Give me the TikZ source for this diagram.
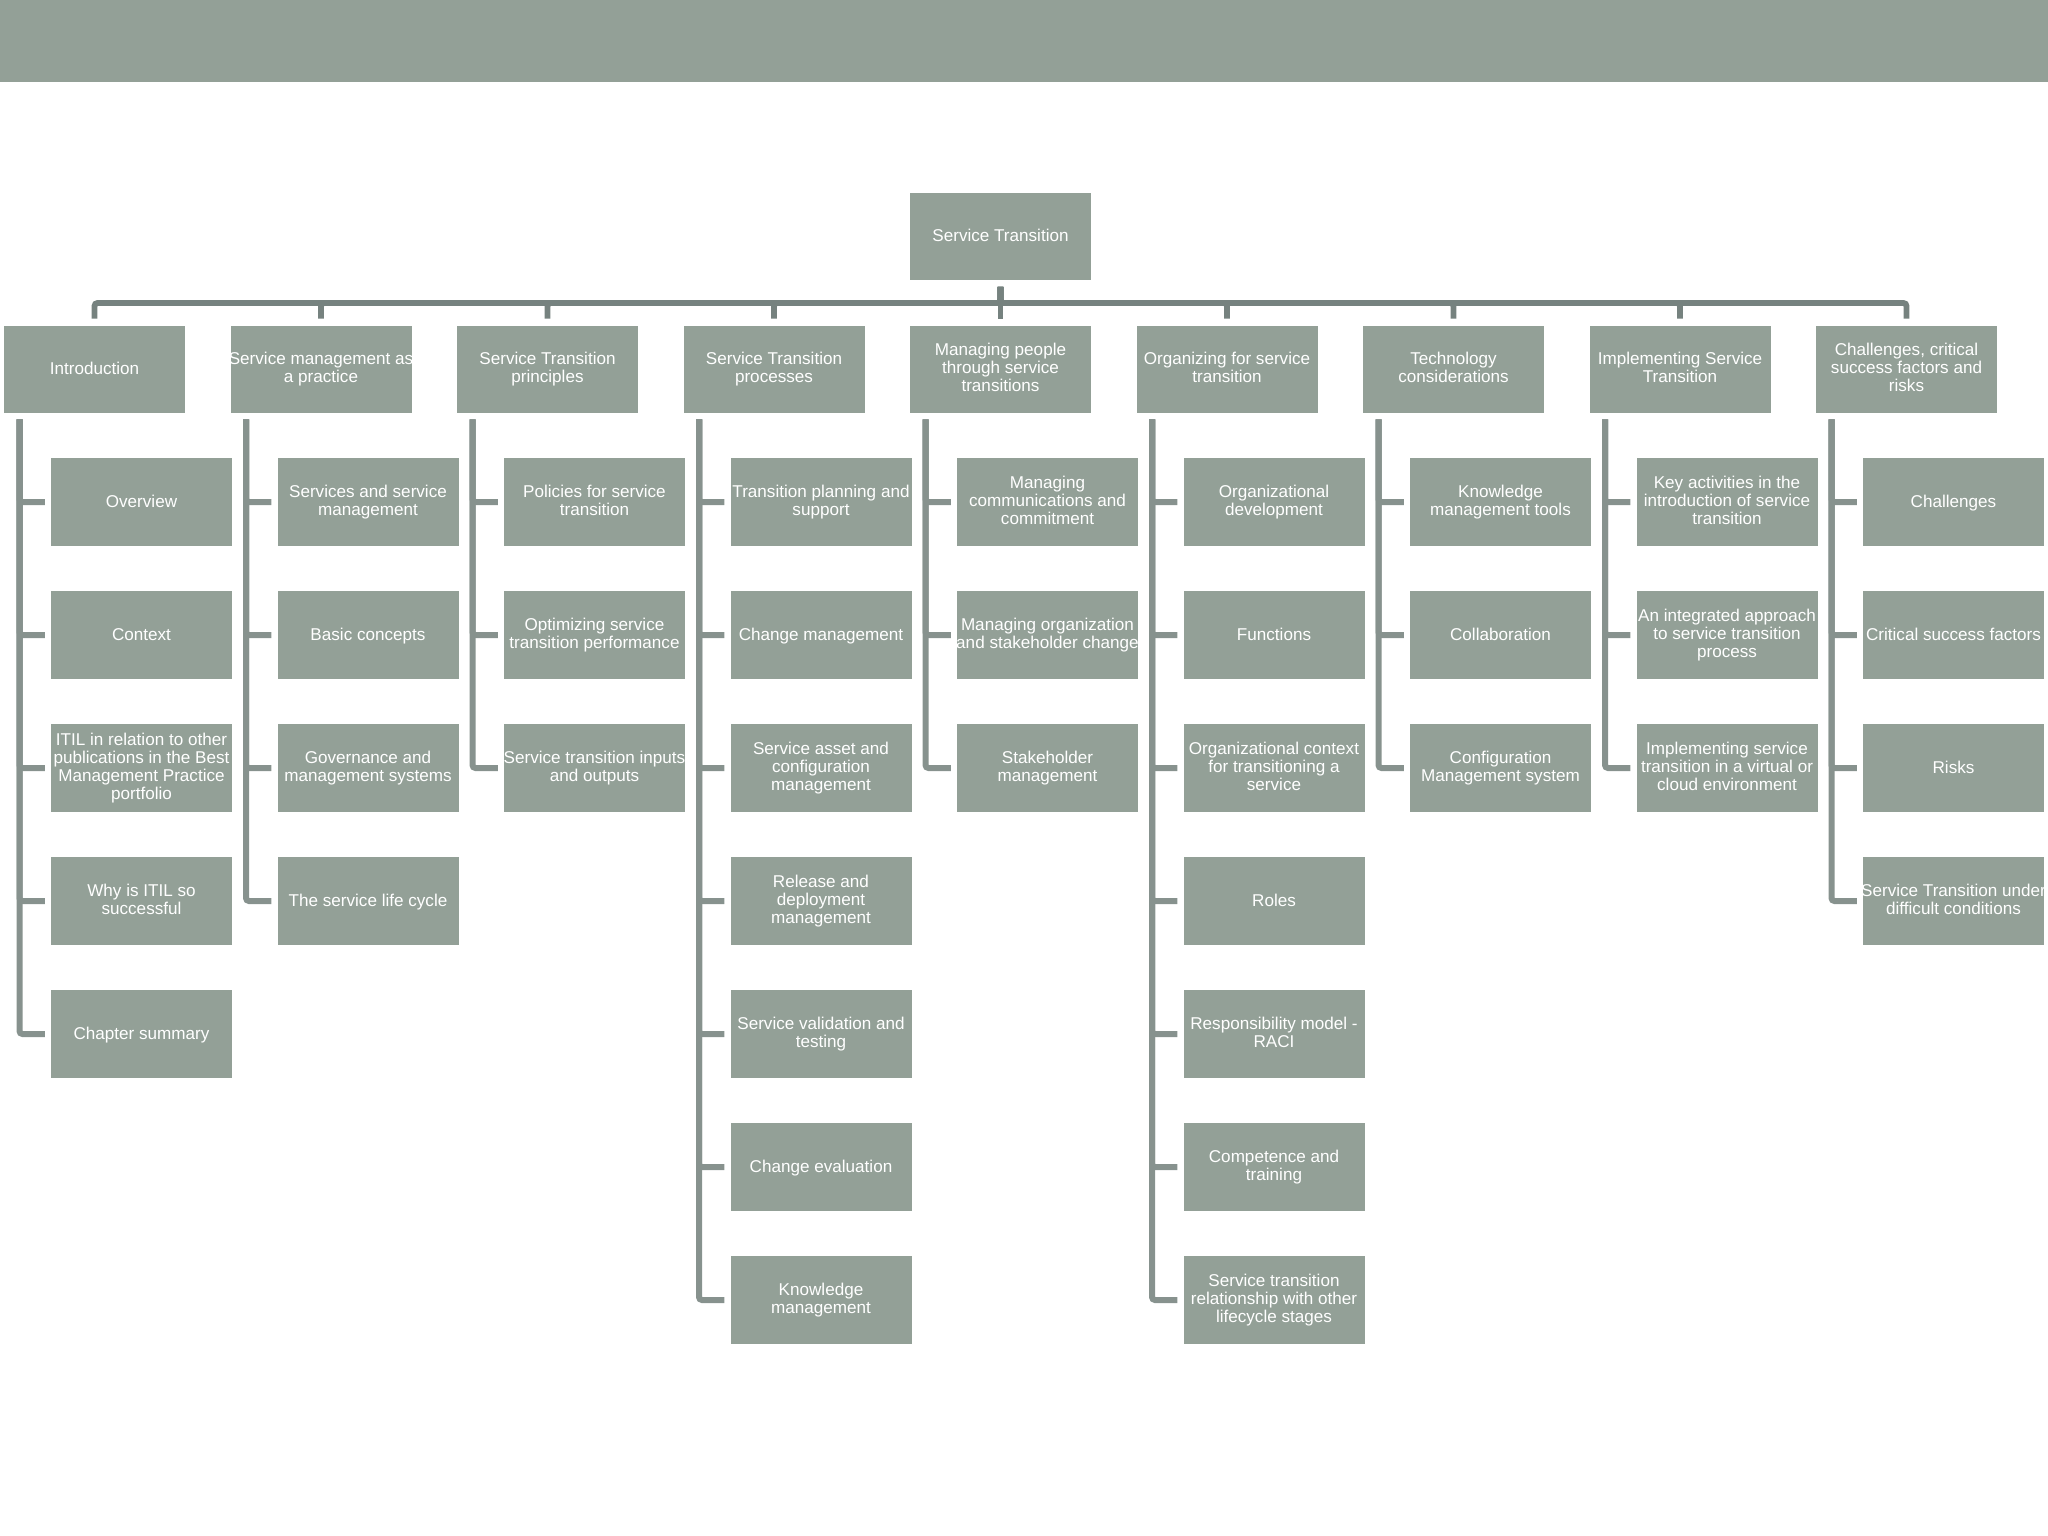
\documentclass[tikz,border=0pt]{standalone}
\usepackage{fontspec}
\setmainfont{Liberation Sans}
\definecolor{boxfill}{HTML}{93A097}
\definecolor{busline}{HTML}{76827F}
\definecolor{trunkline}{HTML}{87928E}
\tikzset{
  box/.style={fill=boxfill,minimum width=181pt,minimum height=87.3pt,inner sep=0pt,align=center,text=white,font=\fontsize{17.1}{18}\selectfont,
    execute at begin node=\raisebox{2.6pt}{\vphantom{Ag}},execute at end node=\vphantom{Ag}},
  busconn/.style={draw=busline,line width=5.8pt,rounded corners=3pt,shorten <=6.7pt,shorten >=6.7pt},
  trunkconn/.style={draw=trunkline,line width=6pt,rounded corners=3pt,shorten <=6.3pt,shorten >=6pt}
}
\newcommand{\treelink}[2]{\draw[trunkconn] ([xshift=15.7pt]#1.south west) |- (#2.west);}
\newcommand{\wideline}[1]{\makebox[170pt][c]{#1}}
\begin{document}
\begin{tikzpicture}[x=1pt,y=-1pt]
\useasboundingbox (0,0) rectangle (2048,1536);
\fill[boxfill] (0,0) rectangle (2048,82);
\coordinate (bus) at (1000.5,303);
\node[box] (root) at (1000.5,236.3) {Service Transition};
% top level
\node[box] (a) at (94.5,369.2) {Introduction};
\node[box] (b) at (321,369.2) {\wideline{Service management as}\\a practice};
\node[box] (c) at (547.5,369.2) {Service Transition\\principles};
\node[box] (d) at (774,369.2) {Service Transition\\processes};
\node[box] (e) at (1000.5,369.2) {Managing people\\through service\\transitions};
\node[box] (f) at (1227,369.2) {\wideline{Organizing for service}\\transition};
\node[box] (g) at (1453.5,369.2) {Technology\\considerations};
\node[box] (h) at (1680,369.2) {\wideline{Implementing Service}\\Transition};
\node[box] (i) at (1906.5,369.2) {Challenges, critical\\success factors and\\risks};
% Introduction
\node[box] (a1) at (141.5,502) {Overview};
\node[box] (a2) at (141.5,635) {Context};
\node[box] (a3) at (141.5,768) {\wideline{ITIL in relation to other}\\\wideline{publications in the Best}\\Management Practice\\portfolio};
\node[box] (a4) at (141.5,901) {Why is ITIL so\\successful};
\node[box] (a5) at (141.5,1034) {Chapter summary};
% Service management
\node[box] (b1) at (368,502) {Services and service\\management};
\node[box] (b2) at (368,635) {Basic concepts};
\node[box] (b3) at (368,768) {Governance and\\management systems};
\node[box] (b4) at (368,901) {The service life cycle};
% Principles
\node[box] (c1) at (594.5,502) {Policies for service\\transition};
\node[box] (c2) at (594.5,635) {Optimizing service\\\wideline{transition performance}};
\node[box] (c3) at (594.5,768) {\wideline{Service transition inputs}\\and outputs};
% Processes
\node[box] (d1) at (821,502) {\wideline{Transition planning and}\\support};
\node[box] (d2) at (821,635) {Change management};
\node[box] (d3) at (821,768) {Service asset and\\configuration\\management};
\node[box] (d4) at (821,901) {Release and\\deployment\\management};
\node[box] (d5) at (821,1034) {\wideline{Service validation and}\\testing};
\node[box] (d6) at (821,1167) {Change evaluation};
\node[box] (d7) at (821,1300) {Knowledge\\management};
% People
\node[box] (e1) at (1047.5,502) {Managing\\communications and\\commitment};
\node[box] (e2) at (1047.5,635) {\wideline{Managing organization}\\\wideline{and stakeholder change}};
\node[box] (e3) at (1047.5,768) {Stakeholder\\management};
% Organizing
\node[box] (f1) at (1274,502) {Organizational\\development};
\node[box] (f2) at (1274,635) {Functions};
\node[box] (f3) at (1274,768) {\wideline{Organizational context}\\for transitioning a\\service};
\node[box] (f4) at (1274,901) {Roles};
\node[box] (f5) at (1274,1034) {\wideline{Responsibility model -}\\RACI};
\node[box] (f6) at (1274,1167) {Competence and\\training};
\node[box] (f7) at (1274,1300) {Service transition\\\wideline{relationship with other}\\lifecycle stages};
% Technology
\node[box] (g1) at (1500.5,502) {Knowledge\\management tools};
\node[box] (g2) at (1500.5,635) {Collaboration};
\node[box] (g3) at (1500.5,768) {Configuration\\Management system};
% Implementing
\node[box] (h1) at (1727,502) {Key activities in the\\\wideline{introduction of service}\\transition};
\node[box] (h2) at (1727,635) {\wideline{An integrated approach}\\to service transition\\process};
\node[box] (h3) at (1727,768) {Implementing service\\\wideline{transition in a virtual or}\\cloud environment};
% Challenges
\node[box] (i1) at (1953.5,502) {Challenges};
\node[box] (i2) at (1953.5,635) {\wideline{Critical success factors}};
\node[box] (i3) at (1953.5,768) {Risks};
\node[box] (i4) at (1953.5,901) {\wideline{Service Transition under}\\difficult conditions};
% connectors from root
\foreach \t in {a,b,c,d,f,g,h,i}
  \draw[busconn] (root.south) -- (bus) -| (\t.north);
\draw[busconn] (root.south) -- (e.north);
% connectors to children
\foreach \p/\n in {a/5,b/4,c/3,d/7,e/3,f/7,g/3,h/3,i/4}
  \foreach \k in {1,...,\n}
    \treelink{\p}{\p\k};
\end{tikzpicture}
\end{document}
